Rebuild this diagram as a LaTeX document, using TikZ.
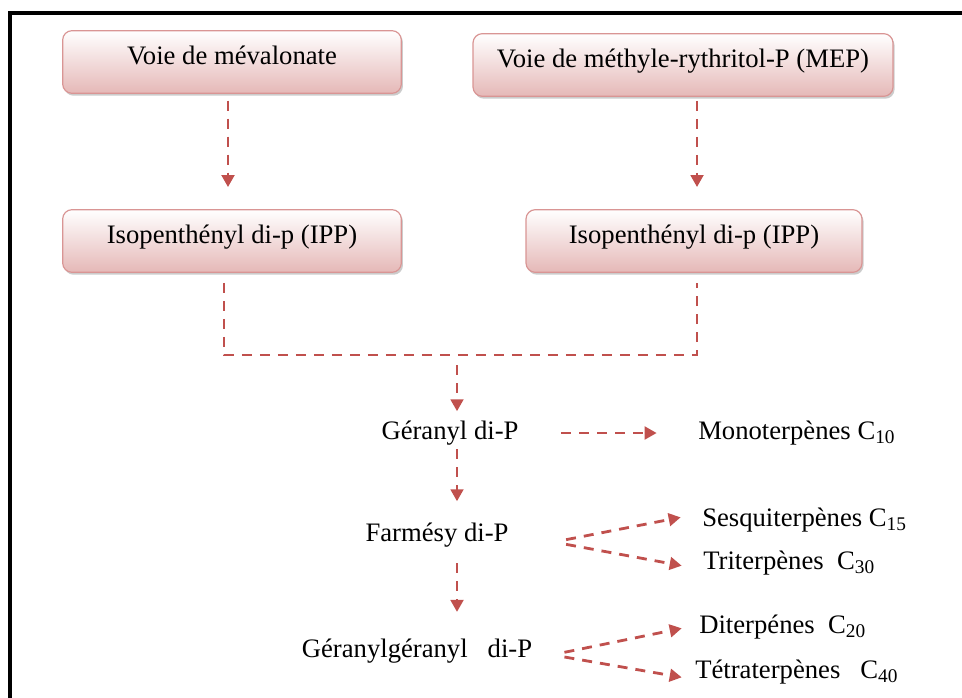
\documentclass[tikz,border=0pt]{standalone}
\usepackage{fontspec}
\setmainfont{Liberation Serif}
\usetikzlibrary{arrows.meta,shadows,positioning}
\definecolor{arrowred}{HTML}{C0504D}
\definecolor{boxline}{HTML}{D99594}
\definecolor{boxpink}{HTML}{E5B8B7}
\newcommand{\Csub}[1]{C\raisebox{-0.35ex}{\fontsize{14.5}{14.5}\selectfont #1}}

\begin{document}
\begin{tikzpicture}[x=0.75pt,y=-0.75pt,
    font=\fontsize{20}{24}\selectfont,
    voie/.style={draw=boxline, line width=0.9pt, rounded corners=7pt,
      top color=white, bottom color=boxpink, minimum height=47pt,
      text height=0.7em, text depth=0.35em,
      drop shadow={shadow xshift=1.2pt, shadow yshift=-1.8pt, opacity=0.4}},
    produit/.style={inner sep=0pt},
    link/.style={arrowred, line width=2.1pt, dash pattern=on 7.5pt off 6pt},
    flow/.style={link, -{Triangle[length=9pt,width=9.5pt]}}]
    \useasboundingbox (0,0) rectangle (962,698);
    \draw[line width=3pt] (9.5,698) -- (9.5,13.5) -- (962,13.5);

    \node[voie, minimum width=254pt] (meva) at (232,62) {Voie de mévalonate};
    \node[voie, minimum width=315pt] (mep) at (683,65) {Voie de méthyle-rythritol-P (MEP)};
    \node[voie, minimum width=254pt] (ipp1) at (232,241) {Isopenthényl di-p (IPP)};
    \node[voie, minimum width=252pt] (ipp2) at (694,241) {Isopenthényl di-p (IPP)};

    \node[produit] (geranyl) at (450,433) {Géranyl di-P};
    \node[produit] (farnesyl) at (437,535) {Farmésy di-P};
    \node[produit] (gergeranyl) at (417,651) {Géranylgéranyl\ \ \ di-P};

    \node[produit, anchor=west] (mono) at (698,433) {Monoterpènes \Csub{10}};
    \node[produit, anchor=west] (sesqui) at (702,520) {Sesquiterpènes \Csub{15}};
    \node[produit, anchor=west] (tri) at (703,563) {Triterpènes\ \ \Csub{30}};
    \node[produit, anchor=west] (di) at (699,627) {Diterpénes\ \ \Csub{20}};
    \node[produit, anchor=west] (tetra) at (695,672) {Tétraterpènes\ \ \ \Csub{40}};

    \coordinate (merge) at (457,355);

    \draw[flow, shorten <=5pt, shorten >=16.5pt] ([xshift=-3pt]meva.south) -- ([xshift=-3pt]ipp1.north);
    \draw[flow, shorten <=3pt, shorten >=16.5pt] ([xshift=10.5pt]mep.south) -- ([xshift=2.25pt]ipp2.north);
    \draw[link] ([xshift=-6pt,yshift=-7.5pt]ipp1.south) |- (merge) -| ([xshift=2.25pt,yshift=-7.5pt]ipp2.south);
    \draw[flow, shorten <=7.5pt, shorten >=7pt] (merge) -- (merge |- geranyl.north);
    \draw[flow, shorten <=3pt, shorten >=16pt] (geranyl.south -| merge) -- (merge |- farnesyl.north);
    \draw[flow, shorten <=12pt, shorten >=20pt] (farnesyl.south -| merge) -- (merge |- gergeranyl.north);

    \draw[flow, shorten <=32pt, shorten >=31pt] (geranyl.east) -- (geranyl.east -| mono.west);
    \draw[flow] ([xshift=43pt,yshift=-3.5pt]farnesyl.east) -- ([xshift=-16pt,yshift=2pt]sesqui.west);
    \draw[flow] ([xshift=43pt,yshift=-7pt]farnesyl.east) -- ([xshift=-16pt,yshift=-2pt]tri.west);
    \draw[flow] ([xshift=24pt,yshift=-1pt]gergeranyl.east) -- ([xshift=-13pt,yshift=-1pt]di.west);
    \draw[flow] ([xshift=24pt,yshift=-4.5pt]gergeranyl.east) -- ([xshift=-10pt,yshift=-4pt]tetra.west);
\end{tikzpicture}
\end{document}
